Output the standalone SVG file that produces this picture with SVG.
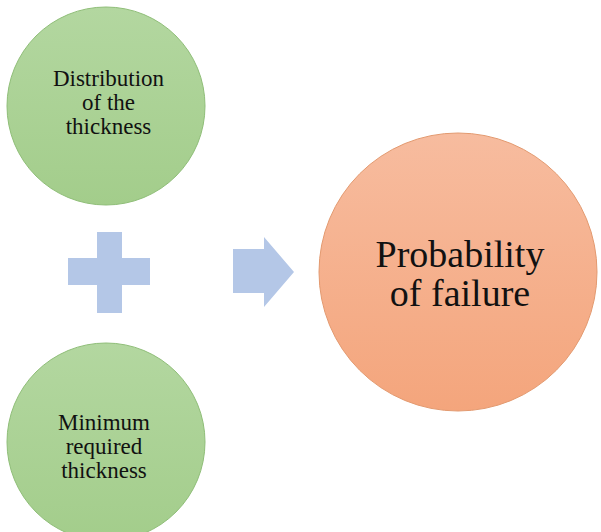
<svg xmlns="http://www.w3.org/2000/svg" width="601" height="532" viewBox="0 0 601 532">
<defs>
<linearGradient id="gGreen" x1="0" y1="0" x2="0" y2="1">
<stop offset="0" stop-color="#b3d7a0"/>
<stop offset="1" stop-color="#a3cd8b"/>
</linearGradient>
<linearGradient id="gOrange" x1="0" y1="0" x2="0" y2="1">
<stop offset="0" stop-color="#f7bc9f"/>
<stop offset="1" stop-color="#f4a57c"/>
</linearGradient>
<style>
.green{fill:url(#gGreen);stroke:#8fbe78;stroke-width:1}
.orange{fill:url(#gOrange);stroke:#e39a70;stroke-width:1}
.op{fill:#b4c7e7;stroke:none}
text{font-family:"Liberation Serif","Times New Roman",serif;fill:#111;text-anchor:middle}
.s{font-size:23px}
.l{font-size:38px}
</style>
</defs>
<rect width="601" height="532" fill="#ffffff"/>
<g id="node-distribution">
<circle class="green" cx="106" cy="106" r="99"/>
<text class="s" x="108.5" y="86">Distribution</text>
<text class="s" x="108.5" y="110">of the</text>
<text class="s" x="108.5" y="134">thickness</text>
</g>
<g id="node-minimum">
<circle class="green" cx="106" cy="442" r="99"/>
<text class="s" x="104" y="430">Minimum</text>
<text class="s" x="104" y="454">required</text>
<text class="s" x="104" y="478">thickness</text>
</g>
<g id="node-probability">
<circle class="orange" cx="458" cy="272" r="139"/>
<text class="l" x="460" y="267">Probability</text>
<text class="l" x="460" y="306">of failure</text>
</g>
<g id="connectors">
<path id="plus" class="op" d="M97,232H122V258H150V285H122V313H97V285H68V258H97Z"/>
<path id="arrow" class="op" d="M233,249H264V237L294,272L264,307V293H233Z"/>
</g>
</svg>
